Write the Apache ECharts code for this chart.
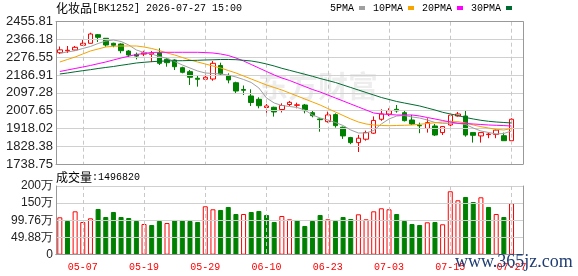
<!DOCTYPE html>
<html>
<head>
<meta charset="utf-8">
<script src="https://cdn.jsdelivr.net/npm/echarts@6/dist/echarts.min.js"></script>
<style>
  html, body { margin: 0; padding: 0; background: #fff; }
  #chart { width: 578px; height: 276px; }
</style>
</head>
<body>
<div id="chart"></div>
<script>
// trading days shown (last one is an empty slot on the right)
const dates = ['04-29','04-30','05-06','05-07','05-08','05-11','05-12','05-13','05-14','05-15',
  '05-18','05-19','05-20','05-21','05-22','05-25','05-26','05-27','05-28','05-29',
  '06-01','06-02','06-03','06-04','06-05','06-08','06-09','06-10','06-11','06-12',
  '06-15','06-16','06-17','06-18','06-22','06-23','06-24','06-25','06-26','06-29',
  '06-30','07-01','07-02','07-03','07-06','07-07','07-08','07-09','07-10','07-13',
  '07-14','07-15','07-16','07-17','07-20','07-21','07-22','07-23','07-24','07-27','']
const labelDates = ['05-07','05-19','05-29','06-10','06-23','07-03','07-15','07-27']

// [open, close, low, high]
const kline = [
  [2299.6,2314.0,2293.0,2330.8],[2309.0,2312.0,2298.0,2333.3],[2313.2,2326.8,2309.7,2333.3],
  [2337.0,2347.0,2336.0,2363.6],[2347.0,2393.8,2346.0,2400.4],[2390.3,2377.2,2353.5,2393.8],
  [2372.2,2338.4,2329.8,2373.7],[2347.0,2337.0,2327.0,2350.0],[2343.4,2309.7,2296.6,2347.0],
  [2308.0,2288.0,2278.0,2313.0],[2291.1,2282.5,2266.0,2300.0],[2292.6,2299.2,2282.5,2309.3],
  [2291.0,2297.5,2252.4,2307.9],[2299.6,2246.2,2237.6,2321.8],[2266.3,2249.2,2229.0,2276.4],
  [2262.8,2229.0,2212.2,2266.3],[2224.0,2200.8,2195.8,2229.0],[2204.0,2175.8,2137.0,2212.2],
  [2170.7,2165.7,2128.5,2182.3],[2165.7,2175.8,2162.2,2208.9],[2167.0,2246.2,2158.3,2257.8],
  [2235.0,2192.2,2183.7,2249.2],[2183.7,2162.2,2145.4,2195.8],[2148.4,2106.6,2091.5,2153.4],
  [2114.2,2110.2,2086.5,2134.3],[2081.5,2048.7,2031.0,2115.2],[2064.8,2032.5,2019.4,2074.9],
  [2023.6,2031.1,1990.8,2041.2],[2024.6,2000.9,1977.5,2027.6],[2013.4,2033.5,1998.4,2044.6],
  [2038.5,2049.6,2031.1,2056.3],[2034.5,2037.0,2019.4,2047.7],[2036.1,2007.4,1994.1,2041.2],
  [1997.4,1982.2,1974.0,2007.4],[1965.6,1962.2,1901.5,1969.1],[1952.2,1986.0,1947.1,2002.6],
  [1987.6,1932.2,1922.1,1994.1],[1924.1,1880.3,1865.2,1927.3],[1871.8,1846.6,1838.6,1875.4],
  [1846.6,1868.8,1799.1,1885.4],[1863.7,1897.0,1856.2,1907.0],[1894.0,1958.3,1890.5,1978.5],
  [1964.1,1990.8,1956.4,2014.4],[1990.8,2007.4,1980.0,2019.4],[2014.4,2006.4,1997.4,2036.1],
  [1997.4,1957.1,1953.0,2005.9],[1960.5,1940.4,1935.4,1986.0],[1933.8,1931.3,1894.0,1947.1],
  [1918.1,1947.1,1897.0,1969.1],[1930.2,1884.9,1880.0,1940.4],[1897.0,1927.3,1884.9,1930.2],
  [1935.4,1984.5,1928.8,1994.1],[1980.7,1990.8,1977.5,2000.9],[1980.7,1884.9,1876.3,2007.4],
  [1897.0,1883.4,1846.6,1897.0],[1880.3,1897.0,1846.6,1897.0],[1887.1,1889.6,1868.8,1897.0],
  [1888.1,1909.6,1868.8,1913.6],[1881.4,1856.2,1856.2,1897.0],[1856.2,1964.1,1846.6,1969.1]
]

const volumes = [1086000,979000,1260000,950000,1057000,1328000,1095000,1240000,1095000,1066000,
  979000,892000,863000,979000,920000,1008000,1008000,979000,950000,1406000,
  1319000,1299000,1386000,1182000,1182000,1240000,1270000,1153000,950000,1124000,
  1028000,1008000,834000,979000,1153000,1028000,979000,1095000,1037000,1173000,
  1028000,1260000,1348000,1319000,1182000,979000,892000,863000,941000,950000,
  883000,1842000,1580000,1676000,1530000,1667000,1386000,1182000,1095000,1496820]

const ma5 = [2296.6,2303.2,2309.7,2320.8,2330.9,2346.0,2358.6,2363.6,2356.1,2338.4,
  2313.3,2300.6,2293.1,2280.5,2271.4,2255.3,2237.7,2222.5,2207.4,2197.4,
  2194.8,2192.3,2187.3,2177.2,2164.6,2149.5,2121.8,2071.4,2046.2,2033.6,
  2028.6,2023.5,2010.9,1985.7,1970.6,1960.5,1947.9,1932.8,1910.1,1895.0,
  1895.0,1907.6,1940.4,1965.6,1980.7,1983.2,1975.6,1970.6,1960.5,1947.9,
  1943.9,1943.9,1943.9,1937.8,1920.2,1905.1,1897.5,1890.0,1892.5,1905.1]
const ma10 = [2252.8,2265.4,2278.0,2293.1,2308.2,2318.3,2328.4,2331.9,2333.4,2333.4,
  2333.4,2328.4,2320.8,2310.7,2298.1,2288.1,2275.5,2262.9,2252.8,2242.7,
  2232.6,2222.5,2210.0,2197.4,2182.2,2167.1,2152.0,2136.9,2124.3,2111.7,
  2096.6,2081.5,2066.3,2051.2,2036.1,2018.4,2000.8,1983.2,1965.6,1950.4,
  1940.4,1935.3,1932.8,1931.8,1932.8,1933.8,1935.3,1938.8,1942.9,1946.4,
  1950.4,1951.9,1951.9,1945.4,1935.3,1926.8,1920.2,1913.7,1910.1,1917.7]
const ma20 = [2204.9,2212.5,2220.0,2227.6,2235.2,2244.2,2252.8,2262.9,2272.9,2282.0,
  2290.6,2295.6,2300.7,2301.7,2301.7,2301.7,2301.7,2301.7,2301.7,2300.1,
  2298.1,2293.1,2285.5,2272.9,2257.8,2240.2,2222.5,2204.9,2187.3,2172.2,
  2159.6,2144.5,2129.3,2114.3,2101.6,2086.5,2071.4,2056.3,2041.1,2026.0,
  2010.9,1995.8,1990.8,1988.2,1985.7,1985.7,1985.7,1980.7,1973.1,1965.6,
  1958.0,1950.4,1943.9,1942.9,1940.4,1937.9,1935.3,1933.8,1932.3,1930.3]
const ma30 = [2192.3,2197.4,2203.4,2209.0,2214.0,2220.0,2225.1,2230.1,2236.1,2241.7,
  2247.7,2251.3,2254.3,2256.8,2257.8,2258.8,2259.3,2260.3,2261.3,2262.9,
  2263.9,2265.4,2265.4,2264.4,2261.3,2257.8,2251.3,2242.7,2232.6,2221.0,
  2211.0,2200.9,2190.8,2180.7,2169.6,2159.6,2149.5,2136.9,2124.3,2111.7,
  2099.1,2086.5,2073.9,2063.8,2053.8,2046.2,2038.7,2031.1,2021.0,2010.9,
  1999.3,1990.8,1983.2,1973.1,1965.6,1959.0,1954.0,1950.4,1947.9,1945.4]

const priceMin = 1738.75
const priceMax = 2455.81
const volTicks = ['0', '49.88万', '99.76万', '150万', '200万']
const volMax = 1995200

const RED = '#ff0000'
const GREEN = '#008000'
const monoFont = 'Liberation Mono'
const cjkFont = 'Noto Sans CJK SC'
const AXIS_Z = 3

// volume bars: red hollow when close >= previous close
const volData = volumes.map((v, i) => {
  const up = i === 0 || kline[i][1] >= kline[i - 1][1]
  return {
    value: v,
    itemStyle: up
      ? { color: '#fff', borderColor: RED, borderWidth: 1 }
      : { color: GREEN, borderColor: GREEN, borderWidth: 1 }
  }
})

const showTick = (i, v) => labelDates.indexOf(v) >= 0
function vSplit() {
  return { show: true, interval: showTick, alignWithLabel: true,
    lineStyle: { color: '#c8c8c8', type: [4, 3], width: 1 } }
}
function hSplit() {
  return { show: true, lineStyle: { color: '#d0d0d0', width: 1 } }
}
function frame() {
  return { show: true, lineStyle: { color: '#999999', width: 1 } }
}
function edgeX(grid, pos) {
  return { type: 'category', gridIndex: grid, data: dates, position: pos, z: AXIS_Z,
    axisLine: frame(), axisTick: { show: false }, axisLabel: { show: false }, splitLine: { show: false } }
}
function edgeY(grid, max) {
  return { type: 'value', gridIndex: grid, position: 'right', min: grid ? 0 : priceMin, max: max, z: AXIS_Z,
    axisLine: frame(), axisTick: { show: false }, axisLabel: { show: false }, splitLine: { show: false } }
}

const chart = echarts.init(document.getElementById('chart'))
chart.setOption({
  animation: false,
  backgroundColor: '#fff',
  title: [
    {
      left: 56, top: 2, padding: 0,
      text: '{a|化妆品}{b|[BK1252] 2026-07-27 15:00}',
      textStyle: { rich: {
        a: { fontFamily: cjkFont, fontSize: 12, fontWeight: 'normal', color: '#000' },
        b: { fontFamily: monoFont, fontSize: 10, fontWeight: 'normal', color: '#000' }
      } }
    },
    {
      left: 56, top: 171, padding: 0,
      text: '{a|成交量}{b|:' + volumes[volumes.length - 1] + '}',
      textStyle: { rich: {
        a: { fontFamily: cjkFont, fontSize: 12, fontWeight: 'normal', color: '#000' },
        b: { fontFamily: monoFont, fontSize: 10, fontWeight: 'normal', color: '#000' }
      } }
    }
  ],
  legend: {
    right: 66, top: 3, padding: 0,
    align: 'right',
    itemGap: 8,
    itemWidth: 6, itemHeight: 4,
    icon: 'rect',
    data: ['5PMA', '10PMA', '20PMA', '30PMA'],
    textStyle: { fontFamily: monoFont, fontSize: 10, color: '#000' }
  },
  graphic: [
    {
      type: 'text', left: 258, top: 71, silent: true,
      style: { text: '东方财富', fill: 'rgba(0,0,0,0.07)', fontSize: 30, fontWeight: 'bold', fontFamily: cjkFont }
    },
    {
      type: 'text', left: 455, top: 253, z: 100, silent: true,
      style: { text: 'www.365jz.com', fill: '#1f3d73', fontSize: 18, fontFamily: 'Liberation Serif' }
    }
  ],
  grid: [
    { left: 56, width: 467, top: 21.7, height: 142.3 },
    { left: 56, width: 467, top: 186, height: 68.7 }
  ],
  xAxis: [
    {
      type: 'category', gridIndex: 0, data: dates, position: 'bottom', z: AXIS_Z,
      axisLine: frame(), axisTick: { show: false }, axisLabel: { show: false },
      splitLine: vSplit()
    },
    {
      type: 'category', gridIndex: 1, data: dates, position: 'bottom', z: AXIS_Z,
      axisLine: frame(), axisTick: { show: false },
      axisLabel: {
        show: true, interval: showTick, margin: 8,
        color: RED, fontFamily: monoFont, fontSize: 10
      },
      splitLine: vSplit()
    },
    edgeX(0, 'top'),
    edgeX(1, 'top')
  ],
  yAxis: [
    {
      type: 'value', gridIndex: 0, position: 'left', z: AXIS_Z,
      min: priceMin, max: priceMax, interval: (priceMax - priceMin) / 8,
      axisLine: frame(), axisTick: { show: false },
      axisLabel: {
        margin: 3, color: '#222', fontFamily: 'Liberation Sans', fontSize: 13,
        formatter: v => v.toFixed(2)
      },
      splitLine: hSplit()
    },
    {
      type: 'value', gridIndex: 1, position: 'left', z: AXIS_Z,
      min: 0, max: volMax, interval: volMax / 4,
      axisLine: frame(), axisTick: { show: false },
      axisLabel: {
        margin: 3, color: '#222', fontFamily: 'Liberation Sans', fontSize: 12,
        formatter: (v, i) => volTicks[i]
      },
      splitLine: hSplit()
    },
    edgeY(0, priceMax),
    edgeY(1, volMax)
  ],
  series: [
    {
      type: 'candlestick', name: 'K', xAxisIndex: 0, yAxisIndex: 0,
      data: kline, barWidth: 5,
      itemStyle: { color: '#fff', color0: GREEN, borderColor: RED, borderColor0: GREEN, borderWidth: 1 }
    },
    { type: 'line', name: '5PMA', data: ma5, xAxisIndex: 0, yAxisIndex: 0, showSymbol: false,
      color: '#a0a0a0', lineStyle: { width: 1, color: '#a0a0a0' } },
    { type: 'line', name: '10PMA', data: ma10, xAxisIndex: 0, yAxisIndex: 0, showSymbol: false,
      color: '#f5a400', lineStyle: { width: 1, color: '#f5a400' } },
    { type: 'line', name: '20PMA', data: ma20, xAxisIndex: 0, yAxisIndex: 0, showSymbol: false,
      color: '#ff00ff', lineStyle: { width: 1, color: '#ff00ff' } },
    { type: 'line', name: '30PMA', data: ma30, xAxisIndex: 0, yAxisIndex: 0, showSymbol: false,
      color: '#006b30', lineStyle: { width: 1, color: '#006b30' } },
    {
      type: 'bar', name: 'VOL', xAxisIndex: 1, yAxisIndex: 1,
      data: volData, barWidth: 5
    }
  ]
})
</script>
</body>
</html>
